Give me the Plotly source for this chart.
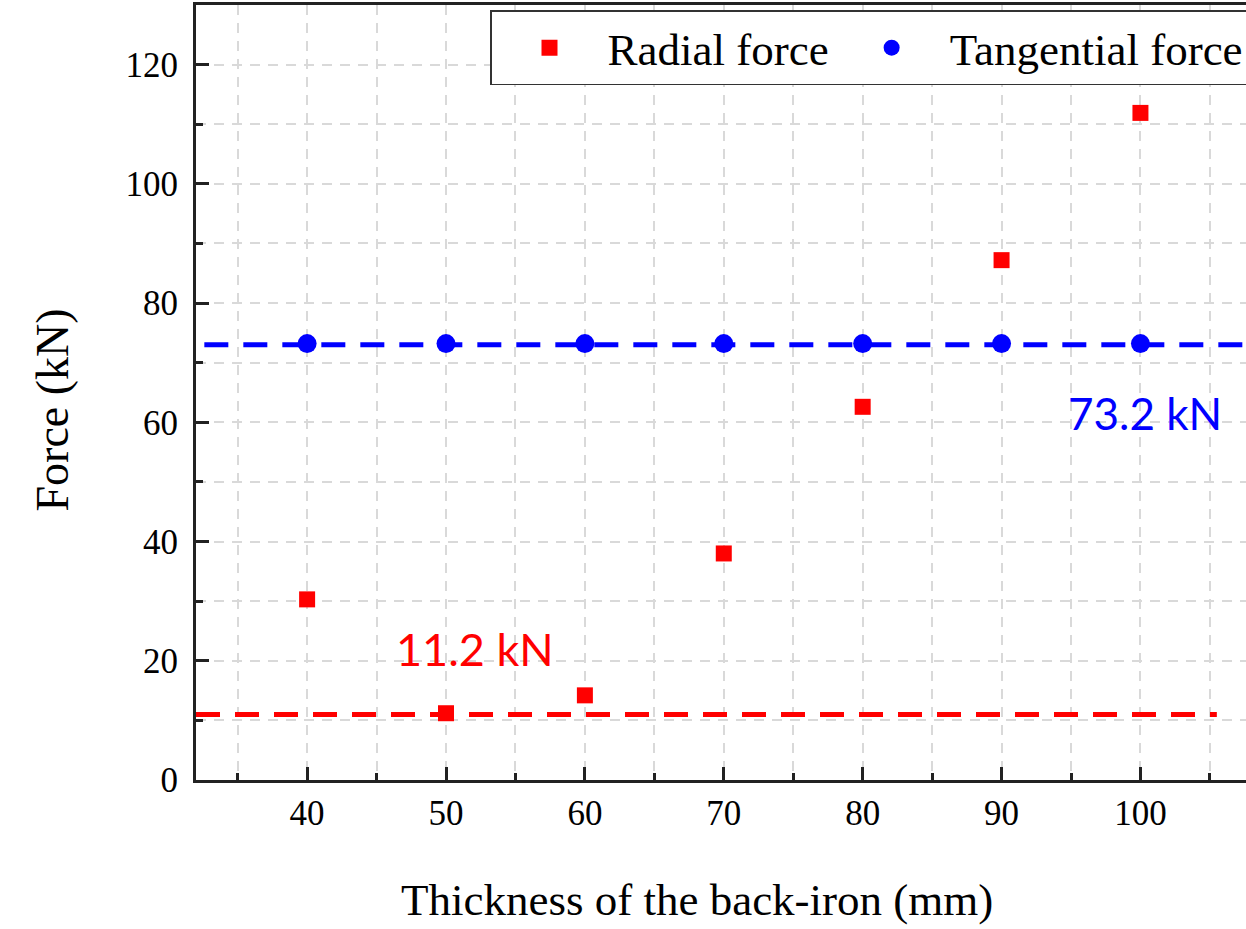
import plotly.graph_objects as go

thickness = [40, 50, 60, 70, 80, 90, 100]
radial_force = [30.3, 11.2, 14.2, 38.0, 62.6, 87.2, 111.9]
tangential_force = [73.2, 73.2, 73.2, 73.2, 73.2, 73.2, 73.2]
radial_min = 11.0
tangential_level = 73.0
radial_label = "11.2 kN"
tangential_label = "73.2 kN"
x_title = "Thickness of the back-iron (mm)"
y_title = "Force (kN)"

serif = "Times New Roman, Liberation Serif, serif"
sans = "Lato, Open Sans, sans-serif"

fig = go.Figure()

fig.add_trace(go.Scatter(x=[32, 105.5], y=[radial_min, radial_min], mode="lines",
                         line=dict(color="#ff0000", width=5, dash="24px,15px"),
                         showlegend=False, hoverinfo="skip"))
fig.add_trace(go.Scatter(x=[32.6, 108], y=[tangential_level, tangential_level], mode="lines",
                         line=dict(color="#0000ff", width=5, dash="24px,15px"),
                         showlegend=False, hoverinfo="skip"))

fig.add_trace(go.Scatter(x=thickness, y=radial_force, mode="markers", name="Radial force",
                         marker=dict(symbol="square", size=16, color="#ff0000")))
fig.add_trace(go.Scatter(x=thickness, y=tangential_force, mode="markers", name="Tangential force",
                         marker=dict(symbol="circle", size=19, color="#0000ff")))

fig.add_annotation(x=52.1, y=22, text=radial_label, showarrow=False,
                   font=dict(family=sans, size=45, color="#ff0000"))
fig.add_annotation(x=100.3, y=61.5, text=tangential_label, showarrow=False,
                   font=dict(family=sans, size=44, color="#0000ff"))
fig.add_annotation(xref="paper", yref="paper", x=0.477, y=-0.155, text=x_title,
                   showarrow=False, xanchor="center", yanchor="middle",
                   font=dict(family=serif, size=45, color="black"))
fig.add_annotation(xref="paper", yref="paper", x=-0.137, y=0.477, text=y_title,
                   showarrow=False, xanchor="center", yanchor="middle", textangle=-90,
                   font=dict(family=serif, size=46, color="black"))

fig.update_layout(
    width=1246, height=929,
    margin=dict(l=196, r=0, t=5, b=149, autoexpand=False),
    paper_bgcolor="white", plot_bgcolor="white",
    font=dict(family=serif, size=34, color="black"),
    showlegend=True,
    legend=dict(orientation="h", x=0.28, xanchor="left", y=0.993, yanchor="top",
                bordercolor="#333333", borderwidth=1.5, bgcolor="white",
                font=dict(family=serif, size=45, color="black"),
                itemsizing="trace", itemwidth=106, tracegroupgap=0),
)

fig.update_xaxes(
    range=[32, 107.6], tickvals=thickness, ticktext=[str(v) for v in thickness],
    showline=True, linecolor="#222222", linewidth=3, mirror=True,
    ticks="inside", ticklen=13, tickwidth=2.5, tickcolor="#222222",
    tickfont=dict(family=serif, size=35, color="black"), ticklabelstandoff=0,
    showgrid=True, gridcolor="#d9d9d9", griddash="10px,8px", gridwidth=1.5,
    minor=dict(dtick=5, tick0=35, ticks="inside", ticklen=7, tickwidth=2.5, tickcolor="#222222",
               showgrid=True, gridcolor="#d9d9d9", griddash="10px,8px", gridwidth=1.5),
    zeroline=False,
)
fig.update_yaxes(
    range=[0, 130], tickvals=[0, 20, 40, 60, 80, 100, 120],
    showline=True, linecolor="#222222", linewidth=3, mirror=False,
    ticks="inside", ticklen=13, tickwidth=2.5, tickcolor="#222222",
    tickfont=dict(family=serif, size=35, color="black"), ticklabelstandoff=8,
    showgrid=True, gridcolor="#d9d9d9", griddash="10px,8px", gridwidth=1.5,
    minor=dict(dtick=10, tick0=10, ticks="inside", ticklen=7, tickwidth=2.5, tickcolor="#222222",
               showgrid=True, gridcolor="#d9d9d9", griddash="10px,8px", gridwidth=1.5),
    zeroline=False,
)

fig.write_html("out.html", config={"displayModeBar": False},
               post_script="document.body.style.margin='0';")
